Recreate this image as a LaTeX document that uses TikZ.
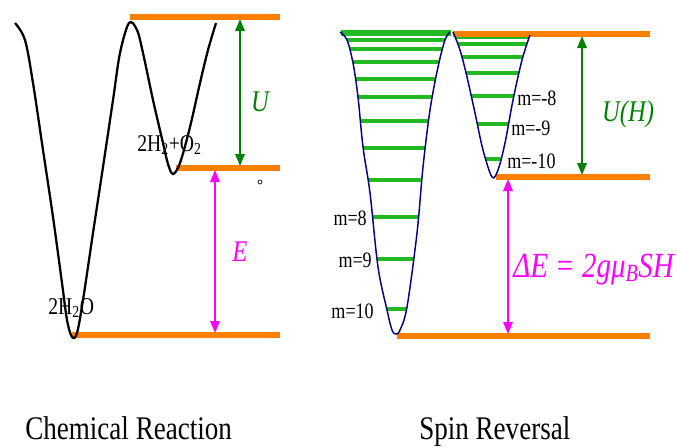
\documentclass[tikz,border=0pt]{standalone}
\usepackage{fontspec}
\setmainfont{Liberation Serif}
\usepackage{graphicx}
\usetikzlibrary{arrows.meta}
\definecolor{orng}{RGB}{255,128,0}
\definecolor{lvl}{RGB}{34,185,34}
\definecolor{darkgr}{RGB}{0,128,0}
\definecolor{magn}{RGB}{255,0,255}
\definecolor{navyc}{RGB}{0,0,128}
\newcommand\sq[1]{\scalebox{0.82}[1]{#1}}
\begin{document}
\begin{tikzpicture}[x=0.75pt,y=-0.75pt,
  eline/.style={orng,line width=3.8pt},
  lvlline/.style={lvl,line width=2.4pt},
  dblarrow/.style={line width=1.6pt,{Triangle[length=9pt,width=7pt]}-{Triangle[length=9pt,width=7pt]}},
  uarrow/.style={dblarrow,darkgr},
  earrow/.style={dblarrow,magn},
  lab/.style={inner sep=0pt,font=\fontsize{18pt}{20pt}\selectfont},
  mlab/.style={inner sep=0pt,font=\fontsize{16.5pt}{18pt}\selectfont},
  biglab/.style={inner sep=0pt,font=\fontsize{24.75pt}{28pt}\selectfont},
  symlab/.style={inner sep=0pt,font=\fontsize{22.5pt}{26pt}\selectfont\itshape}
]
\useasboundingbox (0,0) rectangle (677,447);

% ---------- Chemical reaction ----------
\draw[eline] (130,17) -- (280,17);
\draw[eline] (176,168) -- (280,168);
\draw[eline] (72,335) -- (280,335);
\draw[black,line width=1.7pt] plot[smooth,tension=0.55] coordinates {
  (15,23) (25,40) (33,83) (43,150) (53,217) (62,283) (67,320) (72,337)
  (77,333) (83,300) (93,233) (103,167) (113,100) (120,53) (129,23)
  (137,30) (143,53) (153,100) (163,143) (168,164) (173,174)
  (180,163) (190,127) (200,83) (208,50) (216,23)};
\coordinate (uTop) at (240,19);
\coordinate (uBot) at (240,166);
\coordinate (eTop) at (215,170);
\coordinate (eBot) at (215,333);
\draw[uarrow] (uTop) -- (uBot);
\draw[earrow] (eTop) -- (eBot);
\node[symlab,text=darkgr] (U) at (260,102) {\sq{U}};
\node[symlab,text=magn] (E) at (240,252) {\sq{E}};
\draw[black,line width=0.5pt] (260,182) circle (2);
\node[lab,anchor=base west] (reac) at (137,151) {\sq{2H\textsubscript{2}+O\textsubscript{2}}};
\node[lab,anchor=base west] (prod) at (48,314) {\sq{2H\textsubscript{2}O}};

% ---------- Spin reversal ----------
\begin{scope}
\clip plot[smooth,tension=0.55] coordinates {
  (340,32) (347,40) (353,63) (358,97) (363,147) (370,193) (378,267) (387,310) (392,330) (396,334)
  (400,330) (407,307) (417,233) (423,167) (430,110) (438,67) (445,40) (450,32)} -- cycle;
\foreach \yy in {40,49,62,79,97,121,148,180,217,259,309}
  \draw[lvlline] (330,\yy) -- (460,\yy);
\end{scope}
\begin{scope}
\clip plot[smooth,tension=0.55] coordinates {
  (453,32) (460,50) (467,77) (475,113) (483,150) (492,177)
  (498,170) (505,143) (513,100) (522,60) (530,35)} -- cycle;
\foreach \yy in {37,44,57,73,96,124,159}
  \draw[lvlline] (445,\yy) -- (540,\yy);
\end{scope}
\draw[lvl,line width=3.8pt] (341,33) -- (451,33);
\draw[eline] (453,34) -- (650,34);
\draw[eline] (496,177) -- (650,177);
\draw[eline] (397,336) -- (650,336);
\draw[navyc,line width=1.1pt] plot[smooth,tension=0.55] coordinates {
  (340,32) (347,40) (353,63) (358,97) (363,147) (370,193) (378,267) (387,310) (392,330) (396,334)
  (400,330) (407,307) (417,233) (423,167) (430,110) (438,67) (445,40) (450,32)};
\draw[navyc,line width=1.1pt] plot[smooth,tension=0.55] coordinates {
  (453,32) (460,50) (467,77) (475,113) (483,150) (492,177)
  (498,170) (505,143) (513,100) (522,60) (530,35)};
\coordinate (uhTop) at (582,36);
\coordinate (uhBot) at (582,175);
\coordinate (deTop) at (508,179);
\coordinate (deBot) at (508,334);
\draw[uarrow] (uhTop) -- (uhBot);
\draw[earrow] (deTop) -- (deBot);
\node[symlab,text=darkgr] (UH) at (628,114) {\sq{U(H)}};
\node[inner sep=0pt,font=\fontsize{26.5pt}{28pt}\selectfont\itshape,text=magn,anchor=base west] (dE) at (513,277) {\sq{ΔE = 2gμ\textsubscript{B}SH}};
\node[mlab,anchor=base west] (m1) at (517,105) {\sq{m=-8}};
\node[mlab,anchor=base west] (m2) at (511,135) {\sq{m=-9}};
\node[mlab,anchor=base west] (m3) at (507,168) {\sq{m=-10}};
\node[mlab,anchor=base east] (m4) at (367,225) {\sq{m=8}};
\node[mlab,anchor=base east] (m5) at (372,267) {\sq{m=9}};
\node[mlab,anchor=base east] (m6) at (374,318) {\sq{m=10}};

% ---------- captions ----------
\node[biglab,anchor=base west] (cap1) at (25,439) {\sq{Chemical Reaction}};
\node[biglab,anchor=base west] (cap2) at (419,439) {\sq{Spin Reversal}};
\end{tikzpicture}
\end{document}
